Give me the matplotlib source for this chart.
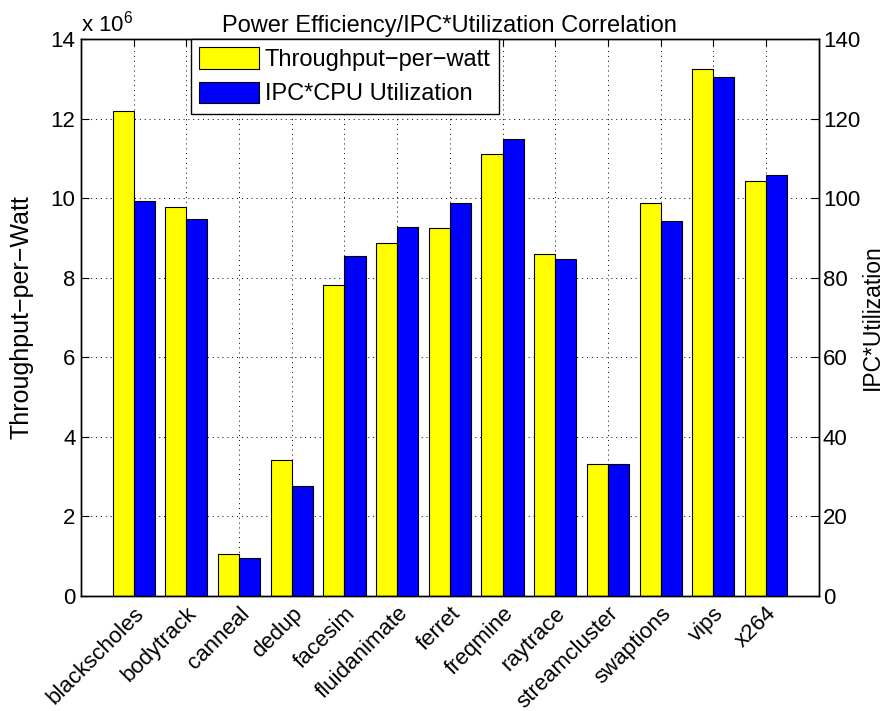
import matplotlib.pyplot as plt
import numpy as np

plt.rcParams['font.family'] = ['Liberation Sans', 'DejaVu Sans']
plt.rcParams['mathtext.fontset'] = 'custom'
plt.rcParams['mathtext.rm'] = 'Liberation Sans'
plt.rcParams['mathtext.it'] = 'Liberation Sans'

benchmarks = ["blackscholes", "bodytrack", "canneal", "dedup", "facesim",
              "fluidanimate", "ferret", "freqmine", "raytrace", "streamcluster",
              "swaptions", "vips", "x264"]
# throughput per watt, in units of 1e6
tpw_millions = [12.19, 9.79, 1.05, 3.41, 7.81, 8.87, 9.24, 11.10, 8.59, 3.32, 9.89, 13.26, 10.44]
ipc_util = [99.4, 94.7, 9.6, 27.6, 85.5, 92.8, 98.9, 115.0, 84.6, 33.2, 94.3, 130.4, 105.9]


def main():
    fig = plt.figure(figsize=(8.87, 7.11), dpi=100)
    ax = fig.add_axes([0.0913, 0.1617, 0.8317, 0.7833])
    ax2 = ax.twinx()

    x = np.arange(1, len(benchmarks) + 1)
    w = 0.4
    b1 = ax.bar(x - w / 2, tpw_millions, w, color='#ffff00', edgecolor='black', linewidth=0.8,
                label='Throughput\u2212per\u2212watt')
    b2 = ax2.bar(x + w / 2, ipc_util, w, color='#0000ff', edgecolor='black', linewidth=0.8,
                 label='IPC*CPU Utilization')

    ax.set_xlim(0, len(benchmarks) + 1)
    ax.set_ylim(0, 14)
    ax2.set_ylim(0, 140)
    ax.set_yticks(np.arange(0, 15, 2))
    ax2.set_yticks(np.arange(0, 141, 20))
    ax.set_xticks(x)
    ax.set_xticklabels(benchmarks, rotation=45, ha='right', rotation_mode='anchor')

    ax.tick_params(axis='x', direction='in', top=True, length=5, labelsize=16, pad=5)
    ax.tick_params(axis='y', direction='in', length=6, labelsize=16, pad=4)
    ax2.tick_params(axis='y', direction='in', length=6, labelsize=16, pad=3)

    ax.set_axisbelow(True)
    ax.grid(True, linestyle=(0, (1, 4)), color='black', linewidth=0.7)

    ax.set_ylabel('Throughput\u2212per\u2212Watt', fontsize=18)
    ax2.set_ylabel('IPC*Utilization', fontsize=16.5)
    ax.yaxis.set_label_coords(-0.064, 0.5)
    ax2.yaxis.set_label_coords(1.057, 0.5)
    ax.set_title('Power Efficiency/IPC*Utilization Correlation', fontsize=17, pad=5)
    ax.text(0.0, 1.005, r'x 10$^{6}$', transform=ax.transAxes, fontsize=16,
            ha='left', va='bottom')

    leg = ax2.legend(handles=[b1, b2], loc='upper left', bbox_to_anchor=(0.1486, 1.0),
                     borderaxespad=0, fontsize=17, fancybox=False, framealpha=1,
                     edgecolor='black', handlelength=2.55, handleheight=1.0,
                     labelspacing=0.45, handletextpad=0.25, borderpad=0.35)
    leg.get_frame().set_linewidth(1.0)

    for a in (ax, ax2):
        for s in a.spines.values():
            s.set_linewidth(1.0)

    fig.savefig('out.png', dpi=100)


if __name__ == '__main__':
    main()
